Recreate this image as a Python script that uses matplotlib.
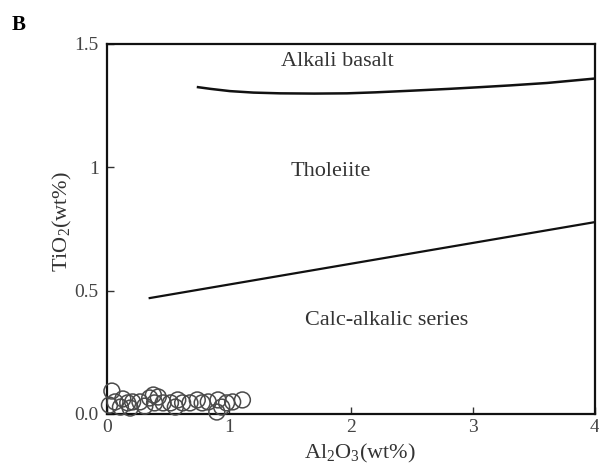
import matplotlib
matplotlib.use("Agg")
import matplotlib.pyplot as plt

# Sample data (Al2O3, TiO2 wt%)
al2o3 = [0.04, 0.066, 0.13, 0.17, 0.19, 0.21, 0.27, 0.31, 0.35, 0.38, 0.42, 0.39,
         0.46, 0.52, 0.56, 0.58, 0.62, 0.68, 0.74, 0.78, 0.83, 0.91, 0.94, 0.90,
         0.98, 1.03, 1.11, 0.02, 0.11]
tio2 = [0.093, 0.049, 0.061, 0.045, 0.024, 0.049, 0.049, 0.032, 0.065, 0.077, 0.069, 0.045,
        0.045, 0.045, 0.028, 0.057, 0.045, 0.045, 0.057, 0.045, 0.049, 0.057, 0.028, 0.008,
        0.045, 0.049, 0.057, 0.036, 0.028]

# Boundary: alkali basalt / tholeiite
ab_x = [0.746, 0.85, 1.008, 1.2, 1.418, 1.7, 1.967, 2.2, 2.508, 2.8, 3.057, 3.3, 3.607, 4.0]
ab_y = [1.325, 1.318, 1.309, 1.303, 1.300, 1.299, 1.300, 1.304, 1.311, 1.318, 1.325, 1.332, 1.342, 1.36]
# Boundary: tholeiite / calc-alkalic
th_x = [0.35, 4.0]
th_y = [0.47, 0.778]

xticks = [0, 1, 2, 3, 4]
xticklabels = ["0", "1", "2", "3", "4"]
yticks = [0.0, 0.5, 1.0, 1.5]
yticklabels = ["0.0", "0.5", "1", "1.5"]

plt.rcParams['font.family'] = ['Liberation Serif', 'DejaVu Serif']
plt.rcParams['mathtext.fontset'] = 'custom'
plt.rcParams['mathtext.rm'] = 'Liberation Serif'
plt.rcParams['mathtext.it'] = 'Liberation Serif:italic'
plt.rcParams['mathtext.bf'] = 'Liberation Serif:bold'

fig = plt.figure(figsize=(5.99, 4.76), dpi=100)
ax = fig.add_axes([107/599, 62/476, 488/599, 370/476])

ax.plot(ab_x, ab_y, color='#111111', lw=1.8)
ax.plot(th_x, th_y, color='#111111', lw=1.6)
ax.scatter(al2o3, tio2, s=130, facecolors='none', edgecolors='#4a4a4a', linewidths=1.1, zorder=3, clip_on=False)

ax.set_xlim(0, 4)
ax.set_ylim(0, 1.5)
ax.set_xticks(xticks)
ax.set_xticklabels(xticklabels)
ax.set_yticks(yticks)
ax.set_yticklabels(yticklabels)
ax.tick_params(direction='in', length=5, width=1, labelsize=14, labelcolor='#444444', color='#333333')
ax.tick_params(axis='y', pad=6)
for s in ax.spines.values():
    s.set_linewidth(1.6)
    s.set_color('#111111')

ax.text(1.89, 1.43, "Alkali basalt", ha='center', va='center', fontsize=16, color='#333333')
ax.text(1.83, 0.985, "Tholeiite", ha='center', va='center', fontsize=16, color='#333333')
ax.text(2.29, 0.38, "Calc-alkalic series", ha='center', va='center', fontsize=16, color='#333333')

ax.set_xlabel("Al$_2$O$_3$(wt%)", fontsize=16, color='#333333')
ax.xaxis.set_label_coords((360 - 107) / 488, -(453 - 414) / 370)
ax.set_ylabel("TiO$_2$(wt%)", fontsize=16, color='#333333')
ax.yaxis.set_label_coords(-(107 - 62) / 488, (414 - 222) / 370)
ax.xaxis.label.set_va('center')
ax.yaxis.label.set_va('center')

fig.text(12/599, 1 - 25/476, "B", fontsize=15, fontweight='bold', va='center', ha='left')

fig.savefig("out.png", dpi=100)
